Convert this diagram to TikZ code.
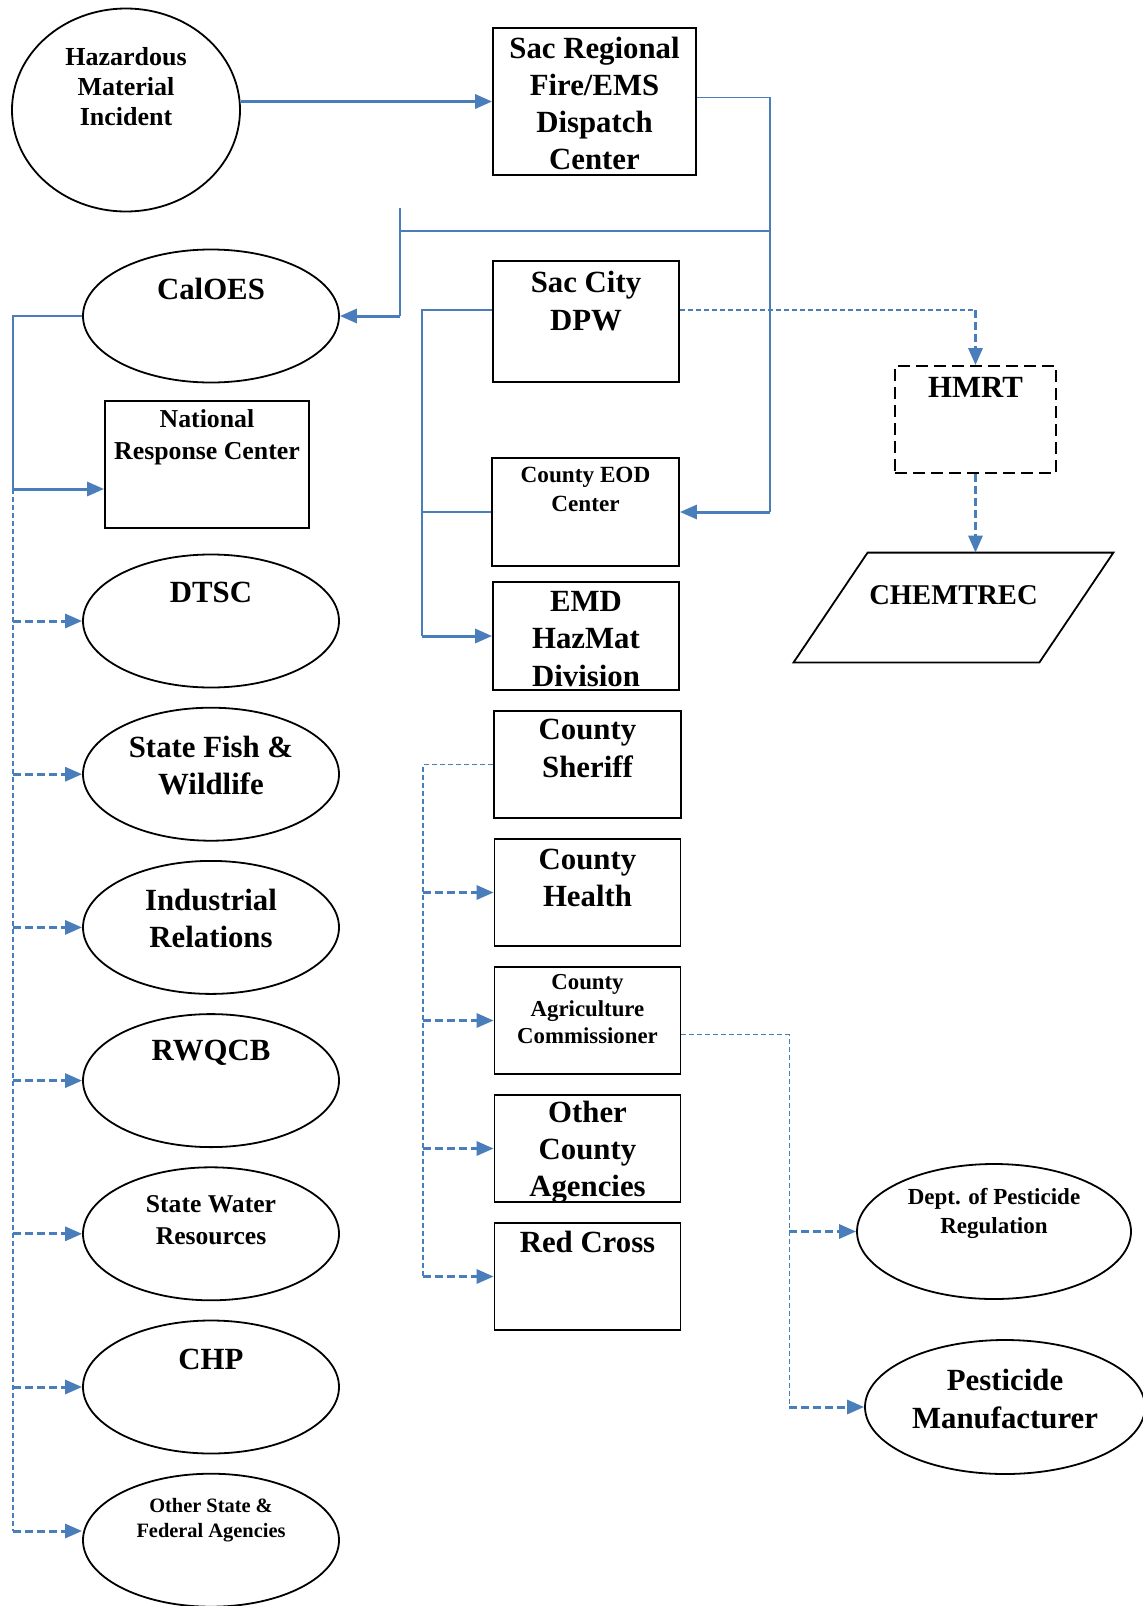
\documentclass[tikz,border=0pt]{standalone}
\usepackage{fontspec}
\setmainfont{Liberation Serif}
\usetikzlibrary{calc, positioning, shapes.geometric, arrows.meta}
\definecolor{link_blue}{RGB}{74,126,187}
\tikzset{
    agency_ellipse/.style={ellipse, draw=black, line width=0.9pt, inner sep=0pt, minimum width=128pt, minimum height=66.5pt},
    agency_box/.style={rectangle, draw=black, line width=0.9pt, inner sep=0pt, minimum width=93pt, minimum height=53.5pt},
    dashed_box/.style={agency_box, dash pattern=on 6pt off 3pt},
    big_text/.style={font=\bfseries\fontsize{15.4}{18.6}\selectfont, align=center, inner sep=0pt},
    mid_text/.style={font=\bfseries\fontsize{12.9}{15.6}\selectfont, align=center, inner sep=0pt},
    small_text/.style={font=\bfseries\fontsize{11.5}{14}\selectfont, align=center, inner sep=0pt},
    tiny_text/.style={font=\bfseries\fontsize{10.2}{12.7}\selectfont, align=center, inner sep=0pt},
    link/.style={draw=link_blue, line width=0.9pt},
    arrow/.style={draw=link_blue, line width=1.5pt, -{Triangle[length=8.5pt,width=7pt]}},
    main_arrow/.style={arrow, line width=1.7pt},
    dash_link/.style={draw=link_blue, line width=0.8pt, dash pattern=on 2.5pt off 1.5pt},
    dash_arrow/.style={draw=link_blue, line width=1.5pt, dash pattern=on 4pt off 2pt, -{Triangle[length=8.5pt,width=7pt]}},
}

\begin{document}
\begin{tikzpicture}[x=0.5pt, y=-0.5pt]
      \useasboundingbox (0,0) rectangle (1143,1606);

      %%%%%%%%%%%%%%%%%%%%%%%%
      % Incident and dispatch %
      %%%%%%%%%%%%%%%%%%%%%%%%
      \node (hazard) [agency_ellipse, minimum width=114pt, minimum height=101.5pt] at (126,110) {};
      \node (hazard_text) [mid_text, font=\bfseries\fontsize{13}{15}\selectfont] at ([yshift=11.5pt]hazard.center)
          {Hazardous\\Material\\Incident};
      \node (sacreg) [agency_box, minimum width=101.5pt, minimum height=73.5pt] at (594.5,101.5) {};
      \node (sacreg_text) [big_text] at ([yshift=-1pt]sacreg.center)
          {Sac Regional\\Fire/EMS\\Dispatch\\Center};

      %%%%%%%%%%%%%%%%%%%
      % State agencies %
      %%%%%%%%%%%%%%%%%%%
      \node (caloes) [agency_ellipse] at (211,316) {};
      \node (caloes_text) [big_text] at ([yshift=13.5pt]caloes.center) {CalOES};
      \node (nrc) [agency_box, minimum width=102pt, minimum height=63.5pt] at (207,464.5) {};
      \node (nrc_text) [mid_text, font=\bfseries\fontsize{12.9}{15.9}\selectfont] at ([yshift=13.75pt]nrc.center)
          {National\\Response Center};
      \node (dtsc) [agency_ellipse] at (211,621) {};
      \node (dtsc_text) [big_text] at ([yshift=14.5pt]dtsc.center) {DTSC};
      \node (fish) [agency_ellipse, below = 9.2pt of dtsc] {};
      \node (fish_text) [big_text] at ([yshift=4.5pt]fish.center) {State Fish \&\\Wildlife};
      \node (indrel) [agency_ellipse, below = 9.2pt of fish] {};
      \node (indrel_text) [big_text] at ([yshift=4.5pt]indrel.center) {Industrial\\Relations};
      \node (rwqcb) [agency_ellipse, below = 9.2pt of indrel] {};
      \node (rwqcb_text) [big_text] at ([yshift=14pt]rwqcb.center) {RWQCB};
      \node (water) [agency_ellipse, below = 9.2pt of rwqcb] {};
      \node (water_text) [mid_text, font=\bfseries\fontsize{12.8}{15.9}\selectfont] at ([yshift=7pt]water.center)
          {State Water\\Resources};
      \node (chp) [agency_ellipse, below = 9.2pt of water] {};
      \node (chp_text) [big_text] at ([yshift=14pt]chp.center) {CHP};
      \node (oth) [agency_ellipse, below = 9.2pt of chp] {};
      \node (oth_text) [tiny_text] at ([yshift=10pt]oth.center) {Other State \&\\Federal Agencies};

      %%%%%%%%%%%%%%%%%%%%
      % County agencies %
      %%%%%%%%%%%%%%%%%%%%
      \node (dpw) [agency_box, minimum height=60.5pt] at (586,321.5) {};
      \node (dpw_text) [big_text] at ([yshift=10.25pt]dpw.center) {Sac City\\DPW};
      \node (eod) [agency_box, minimum width=93.5pt, minimum height=54pt] at (585.5,512) {};
      \node (eod_text) [small_text, font=\bfseries\fontsize{11.6}{14.3}\selectfont] at ([yshift=11.25pt]eod.center)
          {County EOD\\Center};
      \node (emd) [agency_box, minimum height=54pt] at (586,636) {};
      \node (emd_text) [big_text] at ([yshift=-1.5pt]emd.center) {EMD\\HazMat\\Division};
      \node (sheriff) [agency_box, minimum width=93.5pt] at (587.5,764.5) {};
      \node (sheriff_text) [big_text] at ([yshift=8pt]sheriff.center) {County\\Sheriff};
      \node (health) [agency_box, below = 9.6pt of sheriff] {};
      \node (health_text) [big_text] at ([yshift=7.25pt]health.center) {County\\Health};
      \node (ag) [agency_box, below = 9.6pt of health] {};
      \node (ag_text) [small_text, font=\bfseries\fontsize{11.4}{13.6}\selectfont] at ([yshift=5.75pt]ag.center)
          {County\\Agriculture\\Commissioner};
      \node (othcty) [agency_box, below = 9.6pt of ag] {};
      \node (othcty_text) [big_text] at ([yshift=-1.75pt]othcty.center) {Other\\County\\Agencies};
      \node (redx) [agency_box, below = 9.6pt of othcty] {};
      \node (redx_text) [big_text] at ([yshift=17.25pt]redx.center) {Red Cross};

      %%%%%%%%%%%%%%%%%%%%%
      % Outside responders %
      %%%%%%%%%%%%%%%%%%%%%
      \node (hmrt) [dashed_box, minimum width=80.5pt] at (975.5,419.5) {};
      \node (hmrt_text) [big_text] at ([yshift=16.25pt]hmrt.center) {HMRT};
      \node (chem) [rectangle, inner sep=0pt, minimum width=159.5pt, minimum height=54.5pt] at (953.5,607.5) {};
      \draw [line width=0.9pt, line join=miter] (chem.south west) -- ($(chem.north west)+(74,0)$)
          -- (chem.north east) -- ($(chem.south east)+(-74,0)$) -- cycle;
      \node (chem_text) [big_text, font=\bfseries\fontsize{14.3}{17}\selectfont] at ([yshift=6.25pt]chem.center) {CHEMTREC};
      \node (dpr) [agency_ellipse, minimum width=137pt, minimum height=67.5pt] at (994,1231.5) {};
      \node (dpr_text) [small_text, font=\bfseries\fontsize{11.5}{14.3}\selectfont] at ([yshift=9pt]dpr.center)
          {Dept. of Pesticide\\Regulation};
      \node (pm) [agency_ellipse, minimum width=140pt, minimum height=67pt] at (1005,1407) {};
      \node (pm_text) [big_text] at ([yshift=4pt]pm.center) {Pesticide\\Manufacturer};

      %%%%%%%%%%%%%%%%%%%%%%%%
      % Dispatch connections %
      %%%%%%%%%%%%%%%%%%%%%%%%
      \coordinate (branch) at (400,231);
      \coordinate (stub) at (400,208);
      \draw [main_arrow] (hazard.east |- sacreg.west) -- (sacreg.west);
      \draw [link] ($(sacreg.east)+(0,-4)$) -- ++(73,0) coordinate (bend_a) -- (bend_a |- eod.east);
      \draw [arrow] (bend_a |- eod.east) -- (eod.east);
      \draw [link] (bend_a |- branch) -- (branch);
      \draw [link] (stub) -- (stub |- caloes.east);
      \draw [arrow] (stub |- caloes.east) -- (caloes.east);

      %%%%%%%%%%%%%%%%%%%%%
      % State notification %
      %%%%%%%%%%%%%%%%%%%%%
      \coordinate (spine) at (13,489);
      \coordinate (spine_end) at (13,1531);
      \draw [link] (caloes.west) -| (spine);
      \draw [arrow] (spine) -- (spine -| nrc.west);
      \draw [dash_link] (spine) -- (spine_end);
      \draw [dash_arrow] (spine |- dtsc.west) -- (dtsc.west);
      \draw [dash_arrow] (spine |- fish.west) -- (fish.west);
      \draw [dash_arrow] (spine |- indrel.west) -- (indrel.west);
      \draw [dash_arrow] (spine |- rwqcb.west) -- (rwqcb.west);
      \draw [dash_arrow] (spine |- water.west) -- (water.west);
      \draw [dash_arrow] (spine |- chp.west) -- (chp.west);
      \draw [dash_arrow] (spine_end) -- (spine_end -| oth.west);

      %%%%%%%%%%%%%%%%%%%%%%
      % County notification %
      %%%%%%%%%%%%%%%%%%%%%%
      \coordinate (dpw_l) at ($(dpw.west)+(0,-11.5)$);
      \coordinate (dpw_r) at ($(dpw.east)+(0,-11.5)$);
      \draw [link] (dpw_l) -- ++(-70,0) coordinate (tree) -- (tree |- emd.west);
      \draw [link] (eod.west) -- (tree |- eod.west);
      \draw [arrow] (tree |- emd.west) -- (emd.west);
      \draw [dash_link] (dpw_r) -- (dpw_r -| hmrt.north);
      \draw [dash_arrow] (dpw_r -| hmrt.north) -- (hmrt.north);
      \draw [dash_arrow] (hmrt.south) -- (hmrt.south |- chem.north);

      \draw [dash_link] (sheriff.west) -- ++(-70,0) coordinate (ctree) -- (ctree |- redx.west);
      \draw [dash_arrow] (ctree |- health.west) -- (health.west);
      \draw [dash_arrow] (ctree |- ag.west) -- (ag.west);
      \draw [dash_arrow] (ctree |- othcty.west) -- (othcty.west);
      \draw [dash_arrow] (ctree |- redx.west) -- (redx.west);

      \coordinate (ag_r) at ($(ag.east)+(0,14)$);
      \draw [dash_link] (ag_r) -- ++(108,0) coordinate (ptree) -- (ptree |- pm.west);
      \draw [dash_arrow] (ptree |- dpr.west) -- (dpr.west);
      \draw [dash_arrow] (ptree |- pm.west) -- (pm.west);

    \end{tikzpicture}
\end{document}
